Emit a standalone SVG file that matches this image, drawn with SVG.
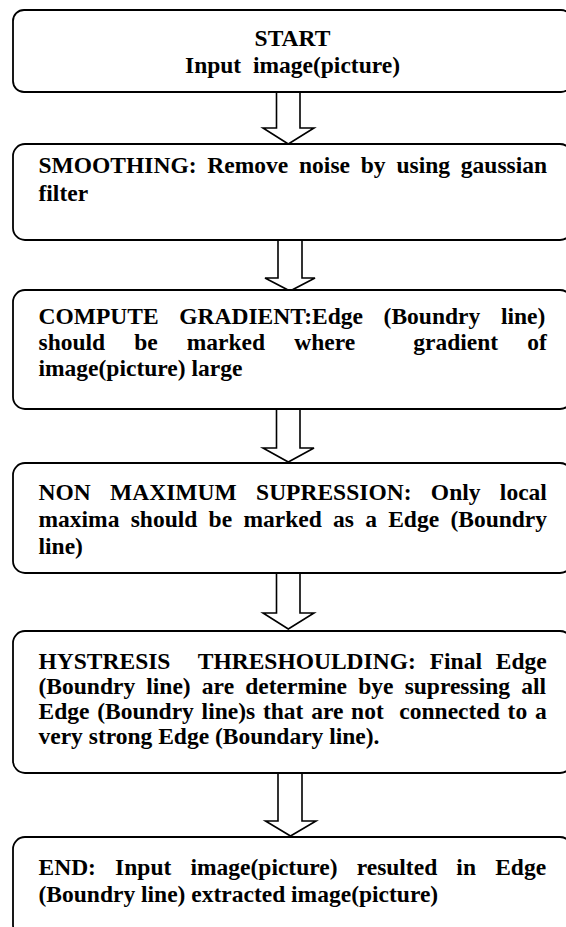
<svg xmlns="http://www.w3.org/2000/svg" width="566" height="927" viewBox="0 0 566 927">
<style>
.box{fill:#fff;stroke:#000;stroke-width:1.8}
.arr{fill:#fff;stroke:#000;stroke-width:1.6;stroke-linejoin:miter}
text{font-family:"Liberation Serif","Times New Roman",serif;font-weight:bold;font-size:23.5px;fill:#000}
.c{text-anchor:middle}
</style>
<rect width="566" height="927" fill="#fff"/>
<g id="connectors">
<path class="arr" d="M276.5,91 V128 H263 L288.3,144 L314,128 H300 V91"/>
<path class="arr" d="M278,239 V278 H265 L290,291 L315,278 H302 V239"/>
<path class="arr" d="M276.5,408 V448 H263 L288.3,462 L314,448 H300 V408"/>
<path class="arr" d="M276.5,572 V613 H263 L288.3,629 L314,613 H300 V572"/>
<path class="arr" d="M278,772 V821 H265.5 L290.5,836 L316,821 H302 V772"/>
</g>
<g id="start">
<rect class="box" x="13" y="10" width="559" height="82" rx="11"/>
<text class="c" x="292.5" y="46">START</text>
<text class="c" x="292.5" y="73" xml:space="preserve">Input  image(picture)</text>
</g>
<g id="smoothing">
<rect class="box" x="13" y="144" width="559" height="96" rx="12"/>
<text x="38.5" y="173" word-spacing="4.95">SMOOTHING: Remove noise by using gaussian</text>
<text x="38.5" y="201">filter</text>
</g>
<g id="gradient">
<rect class="box" x="13" y="290" width="559" height="119" rx="12"/>
<text x="38.5" y="324" word-spacing="14.8">COMPUTE GRADIENT:Edge (Boundry line)</text>
<text x="38.5" y="350" word-spacing="23.2" xml:space="preserve">should be marked where  gradient of</text>
<text x="38.5" y="376">image(picture) large</text>
</g>
<g id="nms">
<rect class="box" x="13" y="463" width="559" height="110" rx="12"/>
<text x="38.5" y="500" word-spacing="13.5">NON MAXIMUM SUPRESSION: Only local</text>
<text x="38.5" y="527" word-spacing="5.4">maxima should be marked as a Edge (Boundry</text>
<text x="38.5" y="554">line)</text>
</g>
<g id="hysteresis">
<rect class="box" x="13" y="631" width="559" height="142" rx="12"/>
<text x="38.5" y="669" word-spacing="8" xml:space="preserve">HYSTRESIS  THRESHOULDING: Final Edge</text>
<text x="38.5" y="694" word-spacing="5.3">(Boundry line) are determine bye supressing all</text>
<text x="38.5" y="719" word-spacing="1.9" xml:space="preserve">Edge (Boundry line)s that are not  connected to a</text>
<text x="38.5" y="744">very strong Edge (Boundary line).</text>
</g>
<g id="end">
<rect class="box" x="13" y="837" width="559" height="100" rx="12"/>
<text x="38.5" y="875" word-spacing="13.3">END: Input image(picture) resulted in Edge</text>
<text x="38.5" y="902">(Boundry line) extracted image(picture)</text>
</g>
</svg>
